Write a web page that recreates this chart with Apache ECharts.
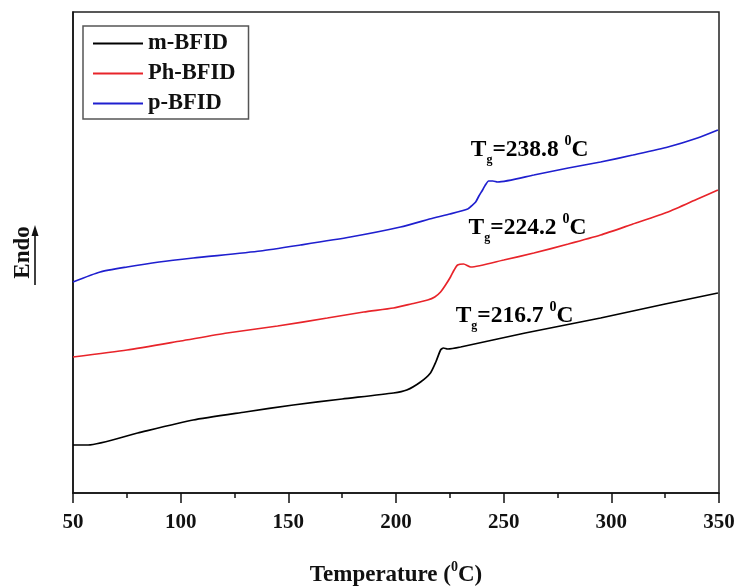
<!DOCTYPE html>
<html>
<head>
<meta charset="utf-8">
<script src="https://cdn.jsdelivr.net/npm/echarts@6/dist/echarts.min.js"></script>
<style>
  body { margin: 0; background: #fff; }
  #main { width: 740px; height: 587px; }
</style>
</head>
<body>
<div id="main"></div>
<script>
// DSC traces, heat flow in arbitrary units (no y scale in the original)
var mT = [50, 57, 80, 105.8, 130, 152.3, 175, 198.8, 205, 211.4, 216, 218.5, 220.7, 222, 224, 230, 260, 295, 325, 349.5];
var mY = [48, 48, 60, 73, 81, 88, 94, 100, 103, 111, 120, 131, 143, 145, 144, 146, 160, 175, 189, 200];

var phT = [50, 75.1, 100, 121.6, 145, 168.1, 185, 198.8, 207, 214.7, 218, 220.7, 223, 225.3, 227, 228.6, 231.4, 234.7, 250, 264, 280, 295, 310, 326.3, 340, 349.5];
var phY = [136, 143, 152, 160, 167, 175, 181, 185, 189, 193, 196, 201, 208, 216, 223, 228, 229, 226, 233, 240, 249, 258, 269, 281, 294, 303];

var pT = [50, 62.6, 75.1, 90, 105.8, 137, 155.6, 178.8, 202.1, 217.4, 225, 233.3, 235, 237, 238.5, 240.2, 241.5, 243, 245, 247.2, 264, 280, 295, 310, 326.3, 340, 349.5];
var pY = [211, 221, 226, 231, 235, 242, 248, 256, 266, 275, 279, 284, 287, 291, 297, 303, 308, 312, 312, 311, 318, 325, 331, 338, 346, 355, 363];

var names = ['m-BFID', 'Ph-BFID', 'p-BFID'];
var colors = ['#000000', '#e8242a', '#1f1fcf'];

// Tg annotations: value, anchor temperature, anchor level
var tgText = ['238.8', '224.2', '216.7'];
var tgX = [234.7, 233.7, 227.7];
var tgY = [343, 265, 177];

var serif = "'Liberation Serif', 'Times New Roman', serif";

function zip(xs, ys) {
    return xs.map(function (x, i) { return [x, ys[i]]; });
}

var chart = echarts.init(document.getElementById('main'));

var series = [zip(mT, mY), zip(phT, phY), zip(pT, pY)].map(function (d, i) {
    return {
        name: names[i],
        type: 'line',
        data: d,
        showSymbol: false,
        smooth: 0.2,
        lineStyle: { color: colors[i], width: 1.7 },
        itemStyle: { color: colors[i] }
    };
});

function rich(size) {
    return {
        t: { fontFamily: serif, fontWeight: 'bold', fontSize: size, color: '#111', lineHeight: 30, verticalAlign: 'middle' },
        s: { fontFamily: serif, fontWeight: 'bold', fontSize: 12, color: '#111', lineHeight: 31, verticalAlign: 'bottom' },
        p: { fontFamily: serif, fontWeight: 'bold', fontSize: 14, color: '#111', lineHeight: 30, verticalAlign: 'top' }
    };
}

chart.setOption({
    animation: false,
    grid: {
        left: 73, right: 21, top: 12, bottom: 94,
        outerBoundsMode: 'none',
        show: true, borderColor: '#222', borderWidth: 1.5
    },
    legend: {
        data: names,
        orient: 'vertical',
        left: 83,
        top: 26,
        icon: 'rect',
        itemWidth: 50,
        itemHeight: 2,
        itemGap: 7,
        padding: [6, 13, 4, 10],
        borderColor: '#555',
        borderWidth: 1.5,
        textStyle: { fontFamily: serif, fontWeight: 'bold', fontSize: 22.5, color: '#111', lineHeight: 22 }
    },
    xAxis: {
        type: 'value',
        min: 50,
        max: 350,
        interval: 50,
        name: '{t|Temperature (}{p|0}{t|C)}',
        nameLocation: 'middle',
        nameGap: 67,
        nameTextStyle: { rich: rich(23) },
        axisLine: { lineStyle: { color: '#111', width: 1.5 } },
        axisTick: { length: 10, lineStyle: { color: '#111', width: 1.5 } },
        minorTick: { show: true, splitNumber: 2, length: 5, lineStyle: { color: '#111', width: 1.5 } },
        axisLabel: { fontFamily: serif, fontWeight: 'bold', fontSize: 21, color: '#111', margin: 19 },
        splitLine: { show: false }
    },
    yAxis: {
        type: 'value',
        min: 0,
        max: 481,
        name: 'Endo',
        nameLocation: 'middle',
        nameGap: 38,
        nameRotate: 90,
        nameTextStyle: { fontFamily: serif, fontWeight: 'bold', fontSize: 23, color: '#111' },
        axisLine: { show: true, lineStyle: { color: '#111', width: 1.5 } },
        axisTick: { show: false },
        axisLabel: { show: false },
        splitLine: { show: false }
    },
    series: series
});

// Tg labels anchored in data space, plus the Endo arrow
var graphics = tgText.map(function (v, i) {
    var pt = chart.convertToPixel({ gridIndex: 0 }, [tgX[i], tgY[i]]);
    return {
        type: 'text',
        x: pt[0],
        y: pt[1],
        style: {
            text: '{t|T}{s|g}{t|=' + v + ' }{p|0}{t|C}',
            rich: rich(23.5),
            align: 'left',
            verticalAlign: 'middle'
        }
    };
});
graphics.push({
    type: 'line',
    shape: { x1: 35, y1: 285, x2: 35, y2: 234 },
    style: { stroke: '#111', lineWidth: 1.6 }
});
graphics.push({
    type: 'polygon',
    shape: { points: [[35, 225], [31.5, 236], [38.5, 236]] },
    style: { fill: '#111' }
});
chart.setOption({ graphic: graphics });
</script>
</body>
</html>
